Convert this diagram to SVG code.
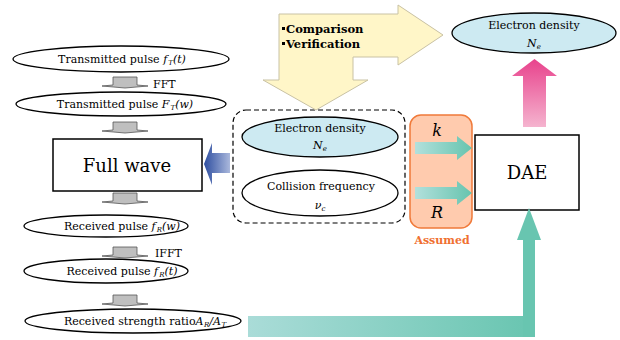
<svg xmlns="http://www.w3.org/2000/svg" width="620" height="340" viewBox="0 0 620 340">
<defs>
<style>
text{font-family:"DejaVu Serif","Liberation Serif",serif;fill:#000}
.t{font-size:11px;text-anchor:middle}
.el{fill:#fff;stroke:#000;stroke-width:1.3}
.blue{fill:#cdeaf2;stroke:#000;stroke-width:1.3}
.gray{fill:#bfbfbf;stroke:#555;stroke-width:0.8}
.box{fill:#fff;stroke:#000;stroke-width:1.5}
.i{font-style:italic}
.sub{font-size:7px}
.b{font-size:11.5px;font-weight:bold}
</style>
<linearGradient id="gTeal" x1="0" y1="0" x2="1" y2="0">
<stop offset="0" stop-color="#b2e0dc"/><stop offset="1" stop-color="#66c4ae"/>
</linearGradient>
<linearGradient id="gPink" x1="0" y1="0" x2="0" y2="1">
<stop offset="0" stop-color="#e8428c"/><stop offset="1" stop-color="#f5b4cf"/>
</linearGradient>
<linearGradient id="gBlue" x1="0" y1="0" x2="1" y2="0">
<stop offset="0" stop-color="#2e4ea0"/><stop offset="1" stop-color="#aab8dc"/>
</linearGradient>
<linearGradient id="gBar" x1="0" y1="0" x2="1" y2="0">
<stop offset="0" stop-color="#aadcd8"/><stop offset="1" stop-color="#68c5b0"/>
</linearGradient>
<polygon id="gArrow" points="-12,0 12,0 12,8 23,9 0,11 -23,9 -12,8"/>
</defs>

<g id="n_ft">
<ellipse class="el" cx="121" cy="59" rx="108" ry="13"/>
<text class="t" x="122" y="63">Transmitted pulse <tspan class="i">f<tspan class="sub" dx="1" dy="2">T</tspan><tspan dy="-2">(t)</tspan></tspan></text>
</g>
<g id="n_Fw">
<ellipse class="el" cx="121" cy="104" rx="105" ry="12"/>
<text class="t" x="125" y="108">Transmitted pulse <tspan class="i">F<tspan class="sub" dx="1" dy="2">T</tspan><tspan dy="-2">(w)</tspan></tspan></text>
</g>
<g id="n_fullwave">
<rect class="box" x="53" y="139" width="149" height="52"/>
<text x="127" y="172" style="font-size:18px;text-anchor:middle">Full wave</text>
</g>
<g id="n_frw">
<ellipse class="el" cx="106" cy="226" rx="82" ry="11"/>
<text class="t" x="122" y="230">Received pulse <tspan class="i">f<tspan class="sub" dx="1" dy="2">R</tspan><tspan dy="-2">(w)</tspan></tspan></text>
</g>
<g id="n_frt">
<ellipse class="el" cx="106" cy="271" rx="82" ry="12"/>
<text class="t" x="122" y="275">Received pulse <tspan class="i">f<tspan class="sub" dx="1" dy="2">R</tspan><tspan dy="-2">(t)</tspan></tspan></text>
</g>
<g id="n_ratio">
<ellipse class="el" cx="133" cy="321" rx="108" ry="12"/>
<text class="t" x="145" y="325">Received strength ratio<tspan class="i">A<tspan class="sub" dx="0.5" dy="2">R</tspan><tspan dy="-2">/A</tspan><tspan class="sub" dx="0.5" dy="2">T</tspan></tspan></text>
</g>

<g id="n_params">
<rect x="233" y="110" width="172" height="113" rx="13" fill="none" stroke="#000" stroke-width="1.2" stroke-dasharray="5,3"/>
<ellipse class="blue" cx="320" cy="137" rx="78" ry="20"/>
<text class="t" x="320" y="132">Electron density</text>
<text class="t i" x="320" y="149">N<tspan class="sub" dy="2">e</tspan></text>
<ellipse class="el" cx="320" cy="193" rx="78" ry="23"/>
<text class="t" x="321" y="190">Collision frequency</text>
<text class="t i" x="320" y="209">ν<tspan class="sub" dy="2">c</tspan></text>
</g>

<g id="n_assumed">
<rect x="410" y="115" width="62" height="113" rx="11" fill="#ffcbae" stroke="#f07a3a" stroke-width="1.5"/>
<text x="437" y="136" style="font-size:16px;font-style:italic;text-anchor:middle">k</text>
<text x="437" y="218" style="font-size:16px;font-style:italic;text-anchor:middle">R</text>
<text x="442" y="244" style="font-size:11px;font-weight:bold;text-anchor:middle;fill:#f07030">Assumed</text>
</g>

<g id="n_dae">
<rect class="box" x="475" y="135" width="104" height="75"/>
<text x="527" y="179" style="font-size:18px;text-anchor:middle">DAE</text>
</g>

<g id="n_result">
<ellipse class="blue" cx="534" cy="33" rx="82" ry="20"/>
<text class="t" x="534" y="29">Electron density</text>
<text class="t i" x="534" y="47">N<tspan class="sub" dy="2">e</tspan></text>
</g>

<g id="connectors">
<use href="#gArrow" x="125" y="77" class="gray"/>
<use href="#gArrow" x="125" y="122" class="gray"/>
<use href="#gArrow" x="125" y="193" class="gray"/>
<use href="#gArrow" x="125" y="247" class="gray"/>
<use href="#gArrow" x="125" y="295" class="gray"/>
<text x="153" y="88" style="font-size:11px">FFT</text>
<text x="155" y="257" style="font-size:11px">IFFT</text>
<polygon points="279,14 398,14 398,5 443,35 398,65 398,57 353,57 353,80 368,80 316,110 263,80 279,80" fill="#fff6c8" stroke="#c9c2a4" stroke-width="1"/>
<rect x="282" y="27" width="3" height="3" fill="#000"/>
<rect x="282" y="42" width="3" height="3" fill="#000"/>
<text class="b" x="286" y="33">Comparison</text>
<text class="b" x="286" y="48">Verification</text>
<polygon points="204,164 212,143 212,153 230,153 230,173 212,173 212,185" fill="url(#gBlue)"/>
<polygon points="415,142 457,142 457,136 472,148 457,160 457,154 415,154" fill="url(#gTeal)"/>
<polygon points="415,187 457,187 457,181 472,193 457,205 457,199 415,199" fill="url(#gTeal)"/>
<polygon points="523,127 523,76 512,76 534.5,59 557,76 546,76 546,127" fill="url(#gPink)"/>
<rect x="248" y="316" width="287" height="21" fill="url(#gBar)"/>
<polygon points="523,337 523,240 517,240 529,208 541,240 535,240 535,337" fill="#68c5b0"/>
</g>
</svg>
